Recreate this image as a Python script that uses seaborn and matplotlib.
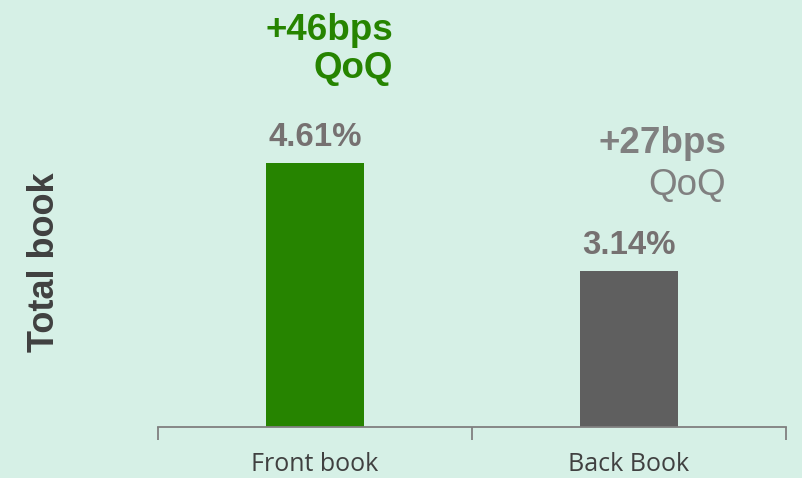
import numpy as np
import matplotlib.pyplot as plt
import pandas as pd
import seaborn as sns

categories = ['Front book', 'Back Book']
values = [4.61, 3.14]
value_labels = ['4.61%', '3.14%']
change_labels = ['+46bps', '+27bps']
bar_colors = ['#268400', '#5F5F5F']

bg = '#D6F0E6'
sns.set_style('white')
plt.rcParams['font.family'] = ['Liberation Sans', 'DejaVu Sans']

df = pd.DataFrame({'book': categories, 'nim': values})

fig = plt.figure(figsize=(8.02, 4.78), dpi=100, facecolor=bg)
ax = fig.add_axes([158 / 802, 1 - 427 / 478, (786 - 158) / 802, 427 / 478])
ax.set_facecolor(bg)

sns.barplot(data=df, x='book', y='nim', hue='book', palette=bar_colors,
            width=0.315, legend=False, ax=ax, saturation=1, linewidth=0)

ax.set_xlim(-0.5, 1.5)
ax.set_ylim(1.0, 6.84)

# only the bottom axis, ticks between categories
for s in ['top', 'right', 'left']:
    ax.spines[s].set_visible(False)
ax.spines['bottom'].set_color('#808080')
ax.spines['bottom'].set_linewidth(1.3)
ax.set_yticks([])
ax.set_xticks([0, 1])
ax.set_xticklabels(categories, fontsize=18, color='#404040', family=['Open Sans', 'DejaVu Sans'])
ax.tick_params(axis='x', which='major', length=0, pad=18)
ax.set_xticks([-0.5, 0.5, 1.5], minor=True)
ax.tick_params(axis='x', which='minor', bottom=True, length=9, width=1.3,
               color='#808080', direction='out')
ax.set_xlabel('')
ax.set_ylabel('')

# value labels above the bars
for i, v in enumerate(values):
    ax.annotate(value_labels[i], (i, v), xytext=(0, 12), textcoords='offset points',
                ha='center', va='baseline', fontsize=23.8, fontweight='bold', color='#767171')

# change annotations
fig.text(393 / 802, 1 - 40 / 478, change_labels[0], ha='right', va='baseline',
         fontsize=26.5, fontweight='bold', color='#268400')
fig.text(393 / 802, 1 - 78 / 478, 'QoQ', ha='right', va='baseline',
         fontsize=26.5, fontweight='bold', color='#268400')
fig.text(726 / 802, 1 - 153 / 478, change_labels[1], ha='right', va='baseline',
         fontsize=26.5, fontweight='bold', color='#808080')
fig.text(726 / 802, 1 - 195 / 478, 'QoQ', ha='right', va='baseline',
         fontsize=26.5, color='#808080')

fig.text(45 / 802, 1 - 262 / 478, 'Total book', rotation=90, ha='center', va='center',
         fontsize=26, fontweight='bold', color='#404040')

fig.savefig('out.png', dpi=100, facecolor=bg)
